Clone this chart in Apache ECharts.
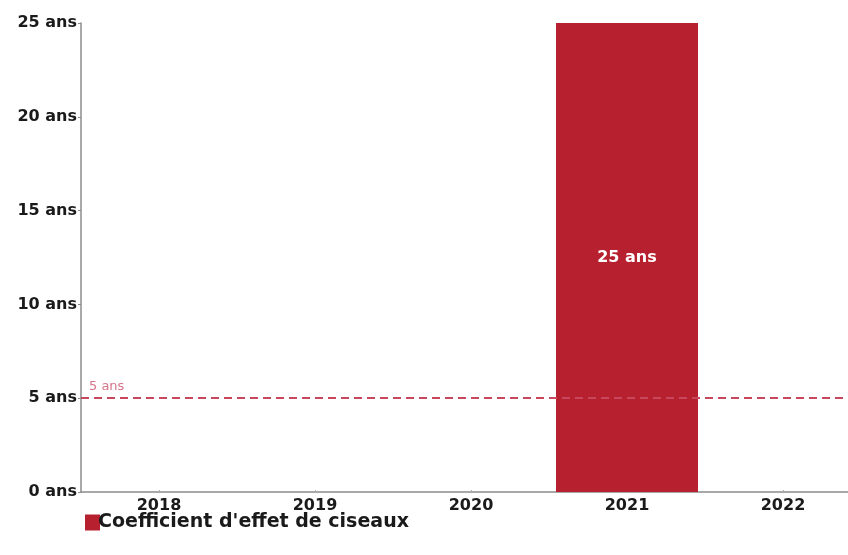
<!DOCTYPE html>
<html>
<head>
<meta charset="utf-8">
<script src="https://cdn.jsdelivr.net/npm/echarts@6/dist/echarts.min.js"></script>
<style>
  html, body { margin: 0; padding: 0; background: #fff; }
  #chart { width: 848px; height: 555px; }
</style>
</head>
<body>
<div id="chart"></div>
<script>
// Years shown on the horizontal axis
const years = ['2018', '2019', '2020', '2021', '2022'];
// Scissors-effect coefficient, in years (null = no value)
const coefficient = [null, null, null, 25, null];
// Reference threshold, in years
const threshold = 5;
// Vertical axis range
const yMin = 0, yMax = 25, yStep = 5;

const chart = echarts.init(document.getElementById('chart'));
const fontFamily = '"DejaVu Sans", sans-serif';
const barColor = '#b7212f';

chart.setOption({
  animation: false,
  grid: {
    left: 81, top: 23, width: 780, height: 469,
    containLabel: false, outerBoundsMode: 'none'
  },
  legend: {
    left: 80, top: 508,
    itemWidth: 15, itemHeight: 16, itemGap: 10,
    icon: 'rect',
    textStyle: { fontFamily, fontWeight: 'bold', fontSize: 19, color: '#1a1a1a', padding: [0, 0, 0, -7] },
    data: ['Coefficient d\'effet de ciseaux']
  },
  xAxis: {
    type: 'category',
    data: years,
    axisLine: { lineStyle: { color: '#8c8c8c', width: 1.5 } },
    axisTick: { show: true, alignWithLabel: true, inside: true, length: 2, lineStyle: { color: '#aaa' } },
    axisLabel: { fontFamily, fontWeight: 'bold', fontSize: 16, color: '#1a1a1a', margin: 6 }
  },
  yAxis: {
    type: 'value',
    min: yMin, max: yMax, interval: yStep,
    splitLine: { show: false },
    axisLine: { show: true, lineStyle: { color: '#8c8c8c', width: 1.5 } },
    axisTick: { show: true, length: 3, lineStyle: { color: '#8c8c8c' } },
    axisLabel: {
      fontFamily, fontWeight: 'bold', fontSize: 16, color: '#1a1a1a', margin: 4,
      formatter: v => v + ' ans'
    }
  },
  series: [{
    name: 'Coefficient d\'effet de ciseaux',
    type: 'bar',
    data: coefficient,
    barWidth: 142,
    itemStyle: { color: barColor },
    label: {
      show: true, position: 'inside',
      fontFamily, fontWeight: 'bold', fontSize: 16, color: '#fff',
      formatter: p => p.value + ' ans'
    },
    markLine: {
      silent: true,
      symbol: 'none',
      lineStyle: { color: '#c9475c', type: [8, 5], width: 2 },
      label: {
        position: 'insideStartTop',
        formatter: threshold + ' ans',
        color: '#d7748a', fontFamily, fontSize: 13, distance: [8, 5]
      },
      data: [{ yAxis: threshold }]
    }
  }]
});
</script>
</body>
</html>
